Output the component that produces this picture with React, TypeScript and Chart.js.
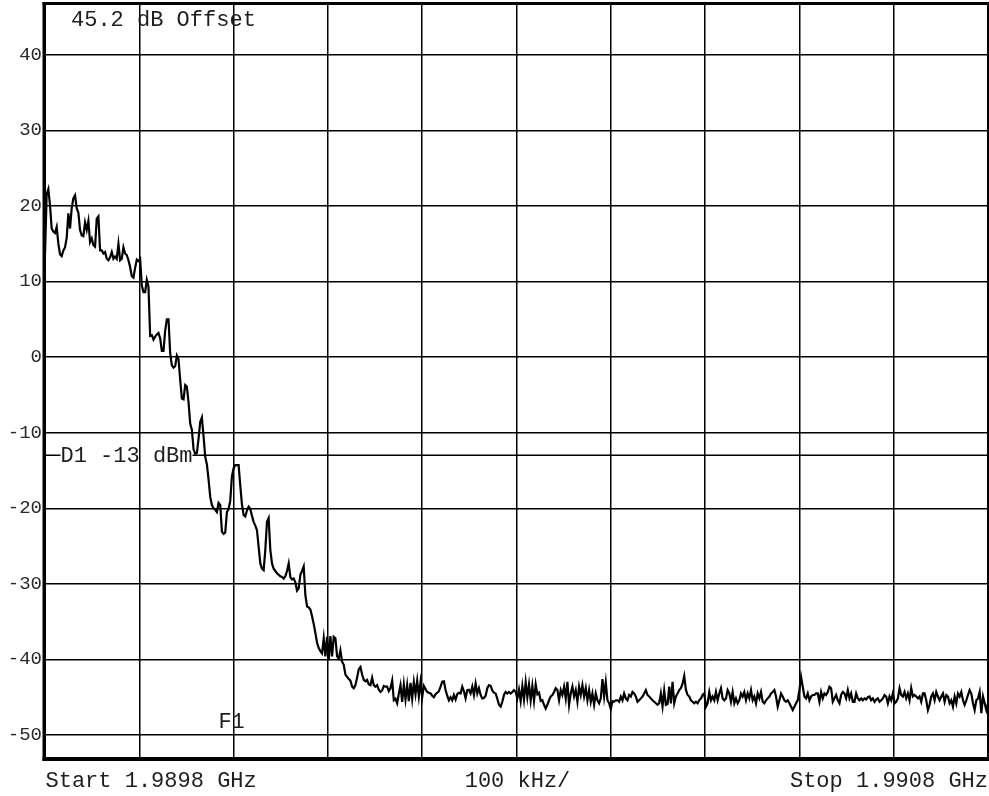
import React, { useEffect, useRef } from "react";
import { Chart, registerables } from "chart.js";

Chart.register(...registerables);

// ---- Data ----------------------------------------------------------------
const START_GHZ = 1.9898;
const STOP_GHZ = 1.9908;
const REF_TOP_DB = 46.7;
const REF_BOTTOM_DB = -53.3;
const DISPLAY_LINE_DB = -13;
const F1_MARKER_GHZ = 1.99;

const yGridDb = [40, 30, 20, 10, 0, -10, -20, -30, -40, -50];
const xGridGHz = [1.9898, 1.9899, 1.99, 1.9901, 1.9902, 1.9903, 1.9904, 1.9905, 1.9906, 1.9907, 1.9908];

const offsetLabel = "45.2 dB Offset";
const displayLineLabel = "D1 -13 dBm";
const markerLabel = "F1";
const startLabel = "Start 1.9898 GHz";
const spanLabel = "100 kHz/";
const stopLabel = "Stop 1.9908 GHz";

// Trace levels (dBm) at the analyzer's equally spaced sweep points
const traceCarrierSkirt = [
  13.5, 21.5, 22.2, 20.1, 17.0, 16.6, 16.4, 17.2, 15.0, 13.6,
  13.35, 14.1, 14.5, 15.8, 19.0, 17.0, 19.7, 21.0, 21.4, 19.7,
  19.1, 16.8, 16.1, 16.0, 17.8, 16.8, 18.0, 15.2, 15.7, 14.8,
  14.6, 18.3, 18.6, 14.1, 14.1, 13.7, 13.9, 13.0, 12.8, 13.2,
  13.9, 13.0, 13.3, 13.0, 15.0, 12.8, 13.0, 14.5, 13.7, 13.5,
  12.8, 11.9, 10.7, 10.5, 11.8, 12.9, 12.7, 13.0, 9.5, 8.6,
  8.6, 10.2, 9.3, 2.8, 2.9, 2.3, 2.7, 3.0, 3.2, 2.5,
  0.8, 0.8, 3.5, 5.0, 5.0, 0.5, -1.1, -1.4, -1.2, 0.2,
];
const traceRolloff = [
  -0.3, -3.0, -5.5, -5.6, -3.7, -3.9, -6.0, -8.8, -9.6, -12.2,
  -12.8, -12.7, -10.8, -8.6, -8.0, -10.5, -13.2, -14.2, -16.2, -18.5,
  -19.6, -20.0, -20.2, -20.5, -19.3, -19.6, -23.1, -23.4, -23.2, -20.5,
  -20.1, -19.0, -15.8, -14.7, -14.3, -14.3, -14.3, -17.0, -19.5, -20.9,
  -21.1, -20.3, -19.8, -20.1, -21.0, -21.8, -22.3, -22.9, -25.1, -27.3,
  -28.0, -28.2, -25.5, -21.8, -21.3, -25.5, -27.3, -28.0, -28.3, -28.6,
  -28.8, -29.0, -29.1, -29.3, -29.0, -28.3, -27.3, -29.1, -29.4, -29.3,
  -29.8, -30.9, -30.6, -28.8, -28.3, -27.7, -31.5, -33.0, -33.1, -33.4,
  -34.3, -35.3, -36.5, -37.8, -38.5, -38.9, -39.2, -37.2, -39.6, -37.0,
  -40.1, -36.9, -39.6, -37.0, -37.2, -39.6, -39.9,
];
const traceFloorA = [
  -38.8, -40.3, -40.7, -42.0, -42.3, -42.6, -42.8, -43.6, -43.8, -43.4,
  -42.4, -41.3, -41.0, -42.0, -42.7, -42.9, -42.7, -43.3, -43.4, -42.4,
  -43.4, -43.6, -43.4, -44.0, -44.3, -44.1, -43.5, -43.6, -43.6, -44.2,
  -43.8, -42.8, -45.4, -45.2, -45.8, -44.5, -43.4, -45.6, -43.3, -45.3,
  -43.4, -45.5, -43.1, -45.2, -43.0, -44.6, -42.8, -44.9, -43.0, -45.0,
  -43.5, -43.9, -44.3, -44.4, -44.5, -44.8, -45.0, -44.6, -44.4, -44.2,
  -43.6, -42.95, -42.9, -44.05, -44.8, -45.4, -45.0, -45.4, -44.7, -45.3,
  -44.6, -44.4, -44.5, -43.6, -44.2, -45.15, -44.05, -44.0, -44.5, -43.6,
  -44.7, -43.2, -44.5, -43.8, -44.7, -45.15, -45.1, -44.8, -43.8, -43.4,
  -43.5, -44.1, -44.4, -44.5, -45.2, -46.0, -46.25, -45.6, -44.7, -44.3,
  -44.5, -44.3, -44.5, -44.3, -44.05, -44.3, -45.15,
  -44.0, -45.5, -43.5, -45.3, -43.0, -45.0, -43.3, -45.4, -43.5, -45.5,
  -43.3, -44.6, -44.4, -45.5, -45.4, -46.0, -46.5, -46.0, -45.4, -44.9,
  -44.7, -44.3, -43.8, -44.05, -45.4, -44.05, -44.7, -43.6, -45.15, -42.95,
  -46.0, -44.5, -43.6, -44.9, -44.05, -45.6, -43.6, -44.7, -43.4, -44.9,
  -43.8, -45.4, -44.05, -45.6, -44.5, -46.0, -44.5, -45.4, -45.8, -45.15,
];
const traceFloorB = [
  -42.6, -44.9, -43.0, -45.4, -45.8, -46.6, -45.5, -45.6, -45.4, -45.4,
  -45.6, -44.9, -45.4, -44.5, -45.15, -45.4, -44.7, -44.9, -44.3, -44.5,
  -44.9, -45.6, -45.4, -45.15, -44.9, -44.5, -44.05, -44.7, -44.9, -45.15,
  -45.4, -45.6, -45.8, -46.0, -45.8, -44.5, -46.2, -44.1, -46.0, -45.9,
  -43.6, -45.8, -42.95, -45.8, -44.9, -44.5, -44.05, -43.8, -43.2, -42.2,
  -44.0, -44.7, -44.9, -45.4, -45.6, -45.8, -45.6, -45.8, -45.4, -45.15,
  -44.7, -44.5, -46.25, -45.8, -44.3, -45.4, -44.9, -45.4, -44.3, -45.4,
  -44.5, -43.8, -45.15, -45.4, -45.15, -44.05, -44.5, -45.6, -44.3, -45.8,
  -45.15, -45.8, -45.4,
];
const traceFloorC = [
  -44.5, -44.9, -44.3, -45.4, -44.5, -45.15, -44.05, -45.4, -44.9, -45.8,
  -44.5, -45.15, -44.3, -45.6, -45.8, -45.4, -45.15, -44.9, -44.5, -44.3,
  -44.05, -44.9, -46.25, -45.4, -44.5, -44.9, -45.4, -45.6, -45.4, -45.8,
  -46.25, -46.7, -46.25, -45.8, -45.4, -44.05, -42.3, -43.6, -44.9, -45.15,
  -44.5, -45.4, -44.9, -44.7, -44.7, -44.5, -44.5, -45.6, -44.3, -45.15,
  -44.5, -44.7, -44.3, -43.6, -43.8, -45.6, -45.15, -44.7, -45.4, -45.8,
  -44.7, -44.3, -44.5, -45.15, -44.05, -45.15, -44.5, -45.6, -45.6, -44.5,
  -45.15, -45.4, -45.15, -45.4, -45.15, -45.3, -45.0, -44.9, -45.4, -45.15,
  -45.6, -45.3, -45.15, -45.6, -45.4, -45.15, -44.7, -44.9, -45.8, -44.9,
  -45.4, -44.5, -45.8, -45.6, -45.15, -43.8, -44.7, -44.9, -44.3, -45.15,
  -44.5, -45.4, -43.8, -44.9, -44.7, -44.9, -45.15, -44.9, -45.6, -44.5,
  -44.5, -45.4, -46.7, -46.0, -44.9, -44.5, -45.4, -44.3, -44.9, -45.4,
  -44.9, -44.5, -45.6, -44.7, -44.9, -45.8, -45.4, -46.25, -44.9, -45.8,
  -44.5, -44.9, -44.3, -45.4, -46.0, -45.4, -44.7, -44.05, -44.5, -45.8,
  -46.7, -45.4, -45.15, -44.3, -47.1, -44.9, -45.8, -46.7, -45.8,
];

const traceLevelsDb = [
  ...traceCarrierSkirt,
  ...traceRolloff,
  ...traceFloorA,
  ...traceFloorB,
  ...traceFloorC,
];

// ---- Styling ---------------------------------------------------------------
const FONT_FAMILY = '"Liberation Mono", "DejaVu Sans Mono", monospace';
const TEXT_COLOR = "#1e1e1e";
const GRID_COLOR = "#000000";

const annotationPlugin = {
  id: "analyzerAnnotations",
  beforeDatasetsDraw(chart: any) {
    const { ctx, chartArea: a, scales } = chart;
    const xs = scales.x;
    const ys = scales.y;
    ctx.save();
    ctx.font = `22px ${FONT_FAMILY}`;
    ctx.fillStyle = TEXT_COLOR;
    ctx.textBaseline = "alphabetic";

    // offset annotation
    ctx.textAlign = "left";
    ctx.fillText(offsetLabel, a.left + 26, a.top + 22);

    // display line D1
    const yd = ys.getPixelForValue(DISPLAY_LINE_DB);
    const tx = a.left + 15.5;
    const tw = ctx.measureText(displayLineLabel).width;
    ctx.strokeStyle = GRID_COLOR;
    ctx.lineWidth = 1.5;
    ctx.beginPath();
    ctx.moveTo(a.left, yd);
    ctx.lineTo(tx, yd);
    ctx.moveTo(tx + tw, yd);
    ctx.lineTo(a.right, yd);
    ctx.stroke();
    ctx.fillText(displayLineLabel, tx, yd + 6.5);

    // marker F1
    ctx.textAlign = "center";
    ctx.fillText(markerLabel, xs.getPixelForValue(F1_MARKER_GHZ) - 2, ys.getPixelForValue(-50) - 7);

    // bottom annotations
    const by = a.bottom + 27;
    ctx.textAlign = "left";
    ctx.fillText(startLabel, a.left + 0.5, by);
    ctx.textAlign = "center";
    ctx.fillText(spanLabel, (a.left + a.right) / 2 + 1, by);
    ctx.textAlign = "right";
    ctx.fillText(stopLabel, a.right, by);
    ctx.restore();
  },
  afterDatasetsDraw(chart: any) {
    const { ctx, chartArea: a } = chart;
    ctx.save();
    ctx.fillStyle = "#000";
    // frame
    ctx.fillRect(a.left - 2.5, a.top - 2, 3.5, a.bottom - a.top + 3);
    ctx.fillRect(a.left - 2.5, a.top - 2, a.right - a.left + 3.5, 3);
    ctx.fillRect(a.left - 2.5, a.bottom - 3, a.right - a.left + 3.5, 4);
    ctx.fillRect(a.right - 1, a.top - 2, 2, a.bottom - a.top + 3);
    ctx.restore();
  },
};

export default function App() {
  const canvasRef = useRef<HTMLCanvasElement | null>(null);

  useEffect(() => {
    const canvas = canvasRef.current;
    if (!canvas) return;
    const n = traceLevelsDb.length;
    const step = (STOP_GHZ - START_GHZ) / (n - 1);
    const points = traceLevelsDb.map((v, i) => ({ x: START_GHZ + i * step, y: v }));

    const chart = new Chart(canvas, {
      type: "line",
      data: {
        datasets: [
          {
            data: points,
            borderColor: "#000",
            borderWidth: 2.2,
            pointRadius: 0,
            tension: 0,
            fill: false,
          },
        ],
      },
      options: {
        responsive: false,
        animation: false,
        devicePixelRatio: 1,
        parsing: false,
        normalized: true,
        layout: { padding: { top: 4, right: 1, left: 0, bottom: 0 } },
        plugins: {
          legend: { display: false },
          tooltip: { enabled: false },
          title: { display: false },
        },
        scales: {
          x: {
            type: "linear",
            min: START_GHZ,
            max: STOP_GHZ,
            border: { display: false },
            grid: { color: GRID_COLOR, lineWidth: 1.5, drawTicks: false },
            ticks: { display: false },
            afterBuildTicks: (scale: any) => {
              scale.ticks = xGridGHz.map((v) => ({ value: v }));
            },
            afterFit: (scale: any) => {
              scale.height = 36;
              scale.paddingLeft = 0;
              scale.paddingRight = 0;
            },
          },
          y: {
            type: "linear",
            min: REF_BOTTOM_DB,
            max: REF_TOP_DB,
            border: { display: false },
            grid: { color: GRID_COLOR, lineWidth: 1.5, drawTicks: false },
            ticks: {
              autoSkip: false,
              padding: 3,
              color: "#2a2a2a",
              font: { family: FONT_FAMILY, size: 19 },
              callback: (v: any) => String(v),
            },
            afterBuildTicks: (scale: any) => {
              scale.ticks = yGridDb.map((v) => ({ value: v }));
            },
            afterFit: (scale: any) => {
              scale.width = 45;
              scale.paddingTop = 0;
              scale.paddingBottom = 0;
            },
          },
        },
      },
      plugins: [annotationPlugin],
    });
    return () => chart.destroy();
  }, []);

  return (
    <div style={{ position: "absolute", left: 0, top: 0, width: 989, height: 796, background: "#fff" }}>
      <canvas ref={canvasRef} width={989} height={796} style={{ width: 989, height: 796, display: "block" }} />
    </div>
  );
}
